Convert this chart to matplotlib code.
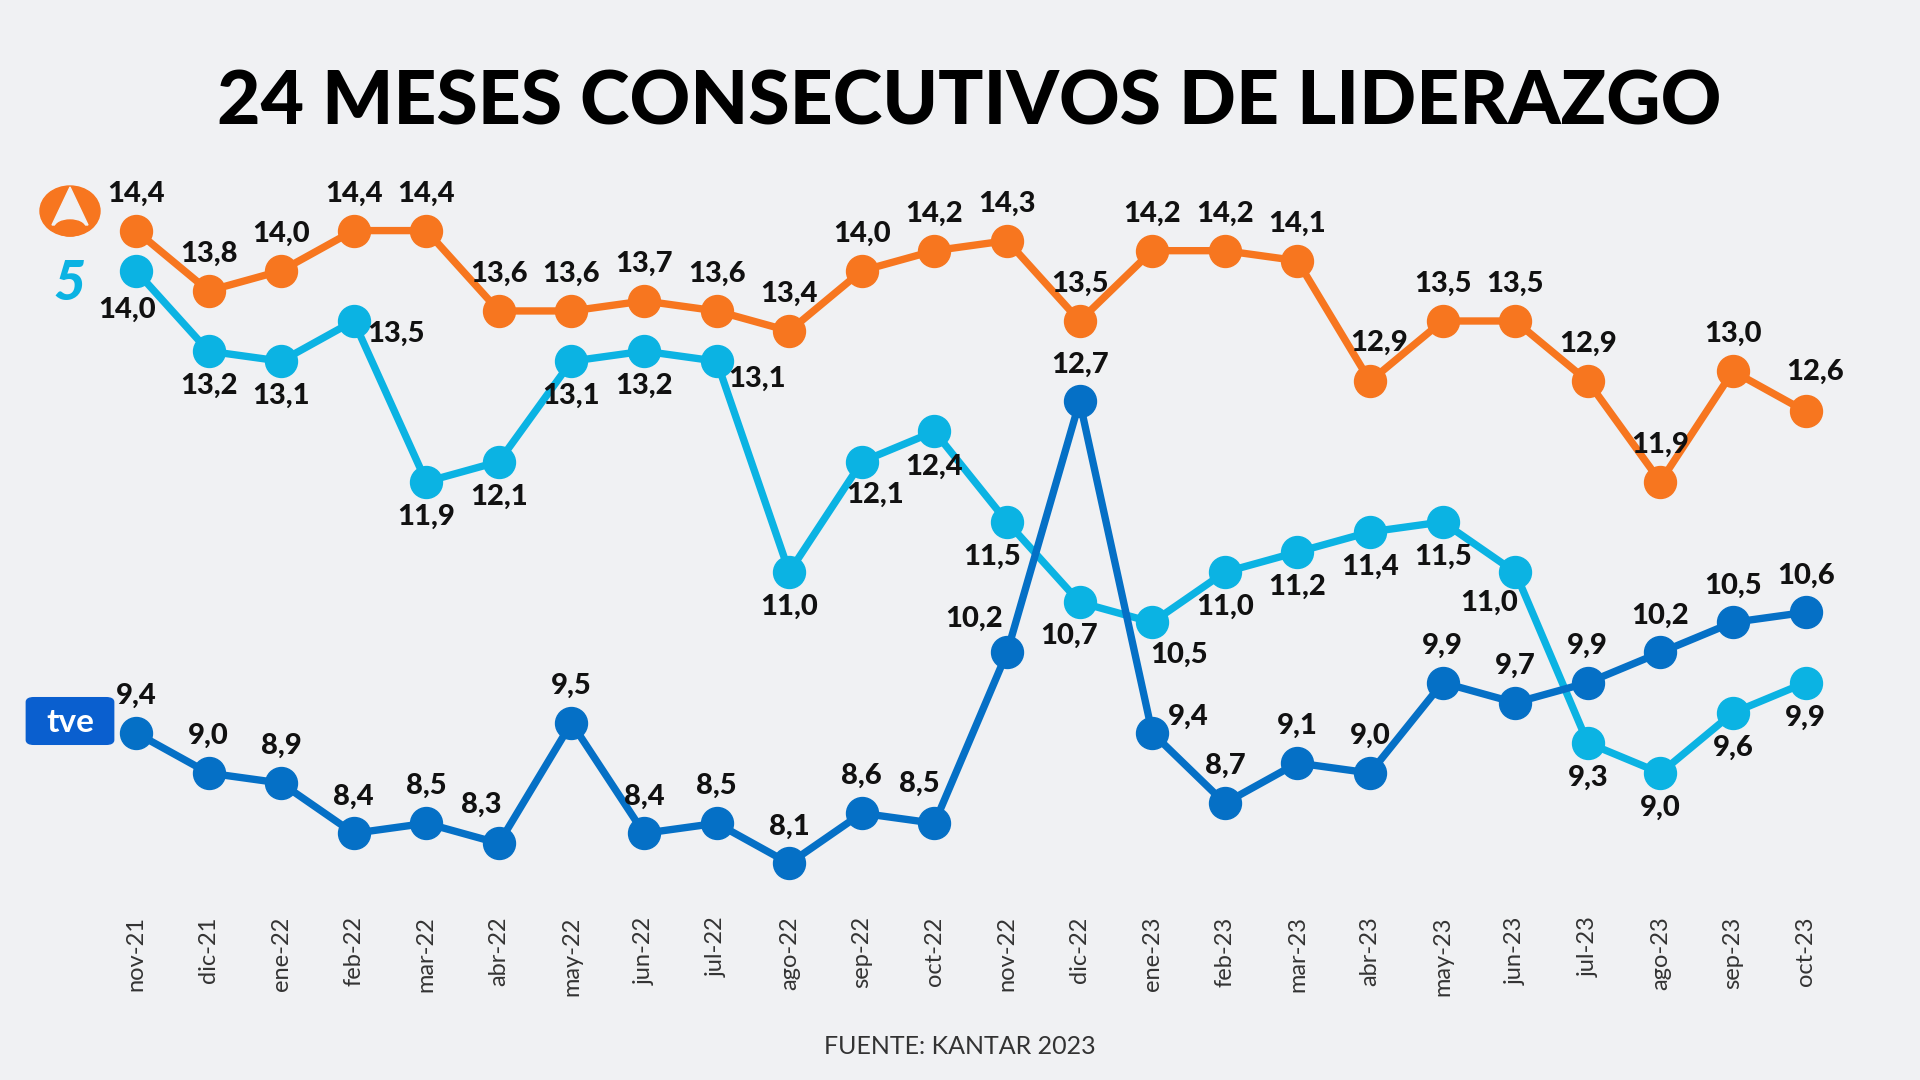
import matplotlib.pyplot as plt
from matplotlib.patches import Ellipse, Polygon, FancyBboxPatch

months = ["nov-21", "dic-21", "ene-22", "feb-22", "mar-22", "abr-22", "may-22", "jun-22",
          "jul-22", "ago-22", "sep-22", "oct-22", "nov-22", "dic-22", "ene-23", "feb-23",
          "mar-23", "abr-23", "may-23", "jun-23", "jul-23", "ago-23", "sep-23", "oct-23"]

antena3 = [14.4, 13.8, 14.0, 14.4, 14.4, 13.6, 13.6, 13.7, 13.6, 13.4, 14.0, 14.2,
           14.3, 13.5, 14.2, 14.2, 14.1, 12.9, 13.5, 13.5, 12.9, 11.9, 13.0, 12.6]
telecinco = [14.0, 13.2, 13.1, 13.5, 11.9, 12.1, 13.1, 13.2, 13.1, 11.0, 12.1, 12.4,
             11.5, 10.7, 10.5, 11.0, 11.2, 11.4, 11.5, 11.0, 9.3, 9.0, 9.6, 9.9]
tve = [9.4, 9.0, 8.9, 8.4, 8.5, 8.3, 9.5, 8.4, 8.5, 8.1, 8.6, 8.5,
       10.2, 12.7, 9.4, 8.7, 9.1, 9.0, 9.9, 9.7, 9.9, 10.2, 10.5, 10.6]

BG = "#F0F1F3"
ORANGE = "#F7761F"
LIGHT = "#0BB3E3"
DARK = "#0570C6"

# label offsets in pixels (default above / below, a few moved aside)
off_a3 = {17: (9, 38), 23: (9, 40)}
off_t5 = {0: (-9, -39), 3: (42, -13), 8: (40, -18), 10: (13, -33), 12: (-15, -35),
          13: (-11, -34), 14: (27, -32), 19: (-26, -31)}
off_tve = {5: (-18, 39), 11: (-15, 39), 12: (-33, 34), 14: (36, 16)}

plt.rcParams['font.family'] = ['Lato', 'DejaVu Sans']

fig = plt.figure(figsize=(19.2, 10.8), dpi=100, facecolor=BG)
ax = fig.add_axes([0.0481, 0.154, 0.915, 0.679])
ax.set_facecolor(BG)

x = list(range(len(months)))
for vals, col, offs, default in [(antena3, ORANGE, off_a3, (0, 37)),
                                 (telecinco, LIGHT, off_t5, (0, -35)),
                                 (tve, DARK, off_tve, (0, 37))]:
    ax.plot(x, vals, color=col, lw=5.3, marker="o", ms=23, zorder=3, clip_on=False)
    for i, v in enumerate(vals):
        dx, dy = offs.get(i, default)
        ax.annotate(f"{v:.1f}".replace(".", ","), (i, v), xytext=(dx, dy),
                    textcoords="offset pixels", ha="center", va="center",
                    fontsize=21, fontweight="black", color="#111111", zorder=4)

ax.set_xlim(-0.6, 23.6)
ax.set_ylim(7.6, 14.9)
ax.set_xticks(x)
ax.set_xticklabels(months, rotation=90, fontsize=17, color="#333333")
ax.tick_params(axis="x", length=0, pad=2)
ax.set_yticks([])
for s in ax.spines.values():
    s.set_visible(False)

fig.text(0.505, 0.905, "24 MESES CONSECUTIVOS DE LIDERAZGO", ha="center", va="center",
         fontsize=54, fontweight="black", color="#000000")
fig.text(0.5, 0.031, "FUENTE: KANTAR 2023", ha="center", va="center",
         fontsize=18, color="#333333")

# simple logo stand-ins
W, H = 1920, 1080
fig.patches.append(Ellipse((70 / W, 1 - 211 / H), 60 / W, 50 / H, transform=fig.transFigure,
                           color=ORANGE, zorder=5))
fig.patches.append(Polygon([(70 / W, 1 - 187 / H), (52 / W, 1 - 225 / H), (88 / W, 1 - 225 / H)],
                           closed=True, transform=fig.transFigure, color=BG, zorder=6))
fig.patches.append(Ellipse((70 / W, 1 - 228 / H), 30 / W, 16 / H, transform=fig.transFigure,
                           color=ORANGE, zorder=7))
fig.text(70 / W, 1 - 284 / H, "5", ha="center", va="center", fontsize=40, fontweight="black",
         style="italic", color=LIGHT)
fig.patches.append(FancyBboxPatch((34 / W, 1 - 740 / H), 72 / W, 38 / H,
                                  boxstyle="round,pad=0.004", transform=fig.transFigure,
                                  color="#0A5FCF", zorder=5))
fig.text(70 / W, 1 - 722 / H, "tve", ha="center", va="center", fontsize=24,
         fontweight="bold", color="white", zorder=6)

fig.savefig("out.png", dpi=100, facecolor=BG)
